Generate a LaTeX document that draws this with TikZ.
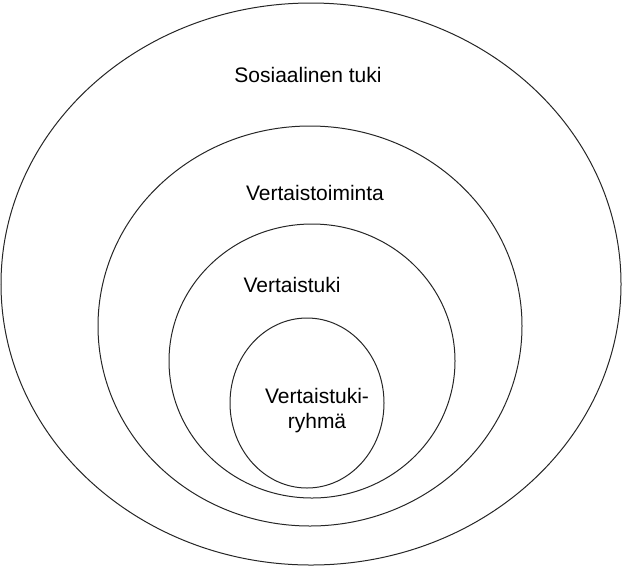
\documentclass[tikz,border=0pt]{standalone}
\usepackage{fontspec}
\setmainfont{Liberation Sans}
\begin{document}
\begin{tikzpicture}[x=1pt,y=-1pt,
  ring/.style={draw=black!85,line width=1pt},
  lbl/.style={font=\fontsize{21}{25}\selectfont,align=center,inner sep=0pt}]
\useasboundingbox (0,0) rectangle (623,566);
\draw[ring] (311,284) ellipse [x radius=310,y radius=281];
\draw[ring] (310,326) ellipse [x radius=212,y radius=200];
\draw[ring] (312,361) ellipse [x radius=143,y radius=137];
\draw[ring] (307,403) ellipse [x radius=77,y radius=85];
\node[lbl] (a) at (308,75) {Sosiaalinen tuki};
\node[lbl] (b) at (315,193) {Vertaistoiminta};
\node[lbl] (c) at (292,285) {Vertaistuki};
\node[lbl] (d) at (317,411) {Vertaistuki-\\ryhmä};
\end{tikzpicture}
\end{document}
